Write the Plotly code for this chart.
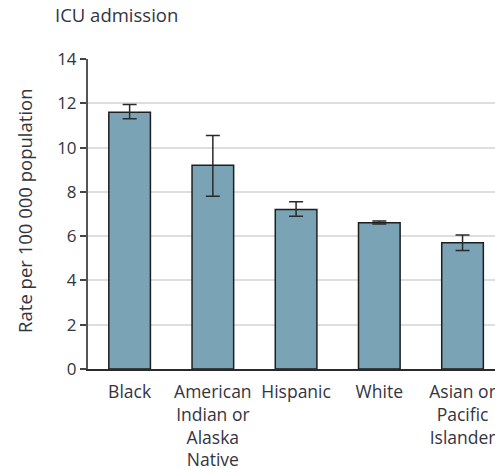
import plotly.graph_objects as go

# ICU admission rates by race/ethnicity with 95% CI
groups = ["Black", "American<br>Indian or<br>Alaska<br>Native", "Hispanic", "White", "Asian or<br>Pacific<br>Islander"]
rates = [11.6, 9.2, 7.2, 6.6, 5.7]
ci_low = [11.3, 7.8, 6.9, 6.55, 5.35]
ci_high = [11.95, 10.55, 7.55, 6.68, 6.05]
y_ticks = [0, 2, 4, 6, 8, 10, 12, 14]

err_plus = [h - r for h, r in zip(ci_high, rates)]
err_minus = [r - l for r, l in zip(rates, ci_low)]

FONT = "Open Sans"
TEXT = "#34343f"

fig = go.Figure(
    go.Bar(
        x=list(range(len(groups))),
        y=rates,
        width=0.5,
        marker=dict(color="#7aa3b6", line=dict(color="#1e1e1e", width=1.5)),
        error_y=dict(
            type="data",
            symmetric=False,
            array=err_plus,
            arrayminus=err_minus,
            color="#2a2a2a",
            thickness=1.5,
            width=7,
        ),
    )
)

fig.update_layout(
    width=495,
    height=470,
    margin=dict(l=88, r=0, t=59, b=101),
    plot_bgcolor="white",
    paper_bgcolor="white",
    showlegend=False,
    font=dict(family=FONT, size=17, color=TEXT),
    title=dict(
        text="ICU admission",
        x=55 / 495,
        xanchor="left",
        y=1 - 16 / 470,
        yanchor="middle",
        font=dict(family=FONT, size=18.5, color=TEXT),
    ),
    annotations=[
        dict(
            text="Rate per 100 000 population",
            textangle=-90,
            xref="paper",
            yref="paper",
            x=(25 - 88) / 407,
            y=0.51,
            xanchor="center",
            yanchor="middle",
            showarrow=False,
            font=dict(family=FONT, size=18.5, color=TEXT),
        )
    ],
)

fig.update_xaxes(
    range=[-0.5, 4.39],
    tickmode="array",
    tickvals=list(range(len(groups))),
    ticktext=groups,
    ticks="outside",
    ticklen=6,
    tickcolor="rgba(0,0,0,0)",
    ticklabeloverflow="allow",
    showgrid=False,
    showline=True,
    linecolor="#2a2a2a",
    linewidth=2,
    automargin=False,
    tickfont=dict(family=FONT, size=17.5, color=TEXT),
)

fig.update_yaxes(
    range=[0, 14],
    tickmode="array",
    tickvals=y_ticks,
    ticks="outside",
    ticklen=6,
    tickwidth=1.5,
    tickcolor="#444",
    showgrid=True,
    gridcolor="#dedede",
    gridwidth=1.5,
    showline=True,
    linecolor="#555",
    linewidth=2,
    zeroline=False,
    automargin=False,
    tickfont=dict(family=FONT, size=17, color=TEXT),
)

fig.write_html("out.html")
